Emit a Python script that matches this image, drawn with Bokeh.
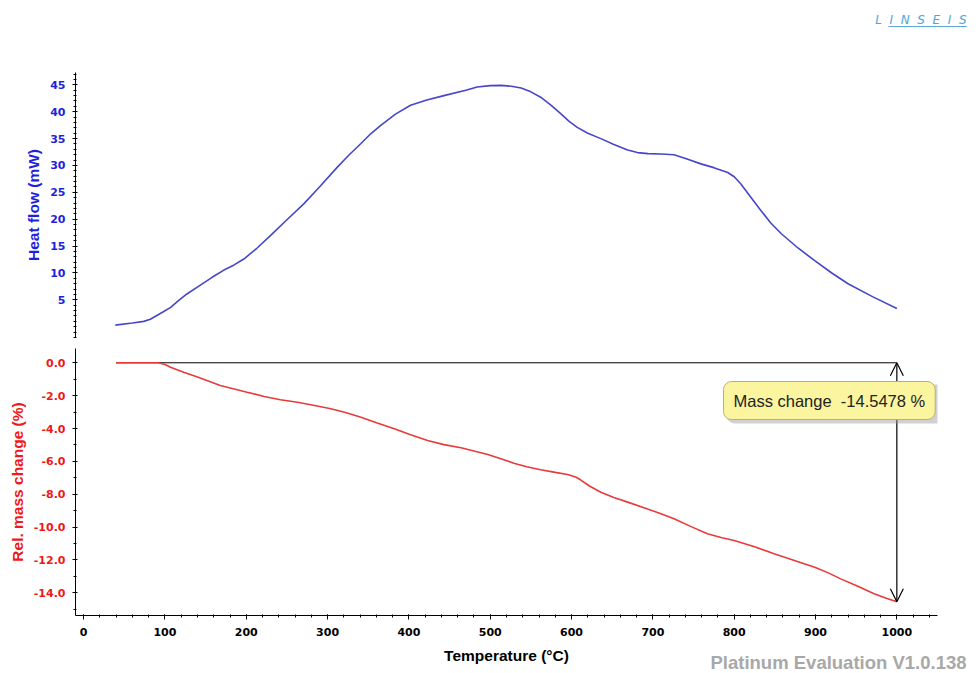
from bokeh.plotting import figure
from bokeh.layouts import column
from bokeh.models import (Range1d, FixedTicker, Label, Arrow, OpenHead, PrintfTickFormatter,
                          Title, BoxAnnotation)
from bokeh.embed import file_html
from bokeh.resources import INLINE

# ---- data ----
temp_hf = [39, 60, 74, 82, 90, 98, 107, 117, 127, 144, 158, 172, 185, 197, 213, 230,
           250, 271, 290, 312, 326, 341, 353, 365, 383, 402, 422, 443, 470, 484, 500,
           513, 526, 538, 550, 562, 575, 587, 597, 607, 620, 636, 652, 669, 681, 694,
           710, 726, 742, 759, 775, 792, 800, 808, 820, 833, 845, 858, 878, 899, 920,
           940, 970, 1000]
heat_flow = [0.3, 0.7, 1.0, 1.4, 2.1, 2.8, 3.6, 4.9, 6.1, 7.8, 9.2, 10.5, 11.5, 12.6,
             14.6, 17.0, 19.9, 22.9, 26.0, 29.7, 31.9, 34.1, 35.9, 37.4, 39.5, 41.2,
             42.2, 43.0, 44.0, 44.6, 44.85, 44.9, 44.75, 44.4, 43.7, 42.7, 41.2, 39.6,
             38.2, 37.1, 36.0, 35.0, 33.9, 32.9, 32.4, 32.2, 32.15, 32.0, 31.2, 30.3,
             29.6, 28.7, 27.9, 26.6, 24.2, 21.6, 19.3, 17.3, 14.7, 12.3, 10.0, 8.0,
             5.6, 3.4]

temp_mass = [40, 92, 100, 107, 123, 140, 168, 201, 222, 242, 263, 284, 304, 322, 341,
             361, 382, 402, 423, 443, 464, 480, 497, 513, 529, 545, 562, 580, 595, 605,
             611, 622, 636, 652, 669, 690, 710, 726, 747, 767, 785, 800, 825, 849, 874,
             899, 915, 931, 952, 972, 987, 1000]
mass_change = [0.0, 0.0, -0.10, -0.27, -0.58, -0.87, -1.38, -1.79, -2.05, -2.25, -2.40,
               -2.60, -2.80, -3.03, -3.31, -3.66, -4.02, -4.38, -4.73, -4.98, -5.17,
               -5.37, -5.58, -5.84, -6.11, -6.33, -6.51, -6.67, -6.80, -6.95, -7.12,
               -7.50, -7.88, -8.20, -8.48, -8.84, -9.19, -9.49, -9.97, -10.41, -10.65,
               -10.82, -11.20, -11.62, -12.03, -12.44, -12.77, -13.15, -13.60, -14.06,
               -14.33, -14.5478]

x_ticks = [0, 100, 200, 300, 400, 500, 600, 700, 800, 900, 1000]
hf_ticks = [5, 10, 15, 20, 25, 30, 35, 40, 45]
mass_ticks = [0, -2, -4, -6, -8, -10, -12, -14]
mass_total = -14.5478
step_start, step_end = 40, 1000

BLUE_LINE = "#4646c8"
BLUE_TXT = "#1f1fe0"
RED_LINE = "#e83a3a"
RED_TXT = "#f01818"
LOGO = "#4ea6d8"

TICK_FONT = "DejaVu Sans"
TITLE_FONT = "Liberation Sans"

x_range = Range1d(-10, 1050)


def style_axis(ax, color):
    ax.axis_line_color = "black"
    ax.major_tick_line_color = "black"
    ax.minor_tick_line_color = "black"
    ax.major_tick_in = 2
    ax.major_tick_out = 3
    ax.minor_tick_in = 1
    ax.minor_tick_out = 2
    ax.major_label_text_font = TICK_FONT
    ax.major_label_text_font_style = "bold"
    ax.major_label_text_font_size = "11px"
    ax.major_label_text_color = color
    ax.major_label_standoff = 7
    ax.axis_label_text_font = TITLE_FONT
    ax.axis_label_text_font_style = "bold"
    ax.axis_label_text_font_size = "15.5px"
    ax.axis_label_text_color = color
    ax.axis_label_standoff = 5


# ---- header strip with the logo ----
p0 = figure(width=968, height=30, x_range=Range1d(0, 968), y_range=Range1d(0, 30),
            output_backend="svg", toolbar_location=None,
            min_border_left=0, min_border_right=0, min_border_top=0, min_border_bottom=0)
p0.frame_align = False
p0.axis.visible = False
p0.grid.visible = False
p0.outline_line_color = None
p0.add_layout(Label(x=966, y=11, text="L\u00a0 I\u00a0 N\u00a0 S\u00a0 E\u00a0 I\u00a0 S",
                    text_align="right", text_baseline="alphabetic",
                    text_font="DejaVu Sans", text_font_style="italic",
                    text_font_size="12px", text_color=LOGO))
p0.add_layout(Label(x=966, y=11, text="_____________", text_align="right",
                    text_baseline="alphabetic", text_font="DejaVu Sans",
                    text_font_size="12px", text_color=LOGO))

# ---- top panel: heat flow ----
p1 = figure(width=968, height=312, x_range=x_range, y_range=Range1d(-2.0, 47.3),
            output_backend="svg", toolbar_location=None,
            min_border_left=75, min_border_right=31, min_border_top=42, min_border_bottom=5)
p1.outline_line_color = None
p1.grid.visible = False
p1.xaxis.visible = False
p1.yaxis.ticker = FixedTicker(ticks=hf_ticks, minor_ticks=list(range(-2, 48)))
p1.yaxis.axis_label = "Heat flow (mW)"
style_axis(p1.yaxis[0], BLUE_TXT)
p1.line(temp_hf, heat_flow, line_color=BLUE_LINE, line_width=1.6)

# ---- bottom panel: mass change ----
p2 = figure(width=968, height=330, x_range=x_range, y_range=Range1d(-15.38, 0.87),
            output_backend="svg", toolbar_location=None,
            min_border_left=75, min_border_right=31, min_border_top=6, min_border_bottom=57)
p2.outline_line_color = None
p2.grid.visible = False
p2.xaxis.ticker = FixedTicker(ticks=x_ticks, minor_ticks=list(range(0, 1041, 20)))
p2.yaxis.ticker = FixedTicker(ticks=mass_ticks, minor_ticks=list(range(-15, 1)))
p2.yaxis.formatter = PrintfTickFormatter(format="%.1f")
p2.xaxis.axis_label = "Temperature (°C)"
p2.yaxis.axis_label = "Rel. mass change (%)"
style_axis(p2.yaxis[0], RED_TXT)
style_axis(p2.xaxis[0], "black")
p2.xaxis.major_tick_in = 1
p2.xaxis.major_tick_out = 4
p2.xaxis.major_label_standoff = 8
p2.xaxis.axis_label_standoff = 8

p2.line([step_start, step_end], [0, 0], line_color="black", line_width=1)
p2.line(temp_mass, mass_change, line_color=RED_LINE, line_width=1.6)
p2.add_layout(Arrow(start=OpenHead(size=13, line_width=1.2, line_color="black"),
                    end=OpenHead(size=13, line_width=1.2, line_color="black"),
                    x_start=step_end, y_start=mass_total, x_end=step_end, y_end=0,
                    line_color="black", line_width=1.2))

# shadow of the call-out box
p2.add_layout(BoxAnnotation(left=790.5, right=1060, top=-1.32, bottom=-3.69,
                            fill_color="#9a9a9a", fill_alpha=0.45, line_color=None,
                            border_radius=8))
p2.add_layout(Label(x=648, y=215, x_units="screen", y_units="screen",
                    text="Mass change \u00a0-14.5478 %",
                    text_align="left", text_baseline="middle",
                    text_font="Liberation Sans", text_font_size="16.5px",
                    text_color="#222222", background_fill_color="#fbf5a0",
                    border_line_color="#b8b070", border_line_width=1,
                    border_radius=8, padding=10))

p2.add_layout(Title(text="Platinum Evaluation V1.0.138", align="right", offset=-29,
                    standoff=-29, vertical_align="top",
                    text_font="Liberation Sans", text_font_style="bold",
                    text_font_size="18.5px", text_color="#a8a8a8"), "below")

layout = column(p0, p1, p2)
open("out.html", "w").write(file_html(layout, INLINE))
